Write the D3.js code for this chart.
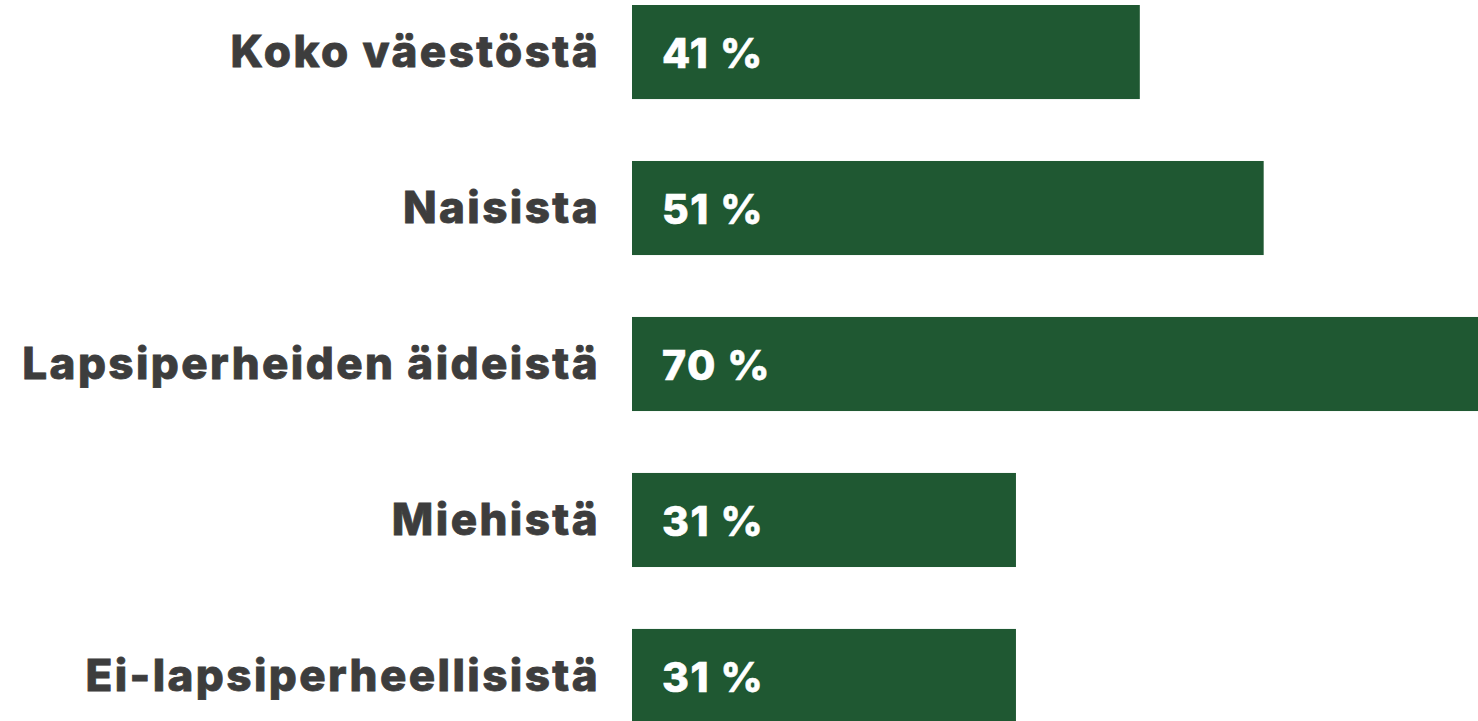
<!DOCTYPE html>
<html>
<head>
<meta charset="utf-8">
<script src="https://cdn.jsdelivr.net/npm/d3@7"></script>
<style>
  html, body { margin: 0; padding: 0; background: #ffffff; overflow: hidden; }
  svg { display: block; }
</style>
</head>
<body>
<svg id="chart" width="1478" height="721"></svg>
<script>
const categories = ["Koko väestöstä", "Naisista", "Lapsiperheiden äideistä", "Miehistä", "Ei-lapsiperheellisistä"];
const values = [41, 51, 70, 31, 31];
const valueLabels = ["41 %", "51 %", "70 %", "31 %", "31 %"];

const W = 1478, H = 721;
const svg = d3.select("#chart");

const x = d3.scaleLinear().domain([0, 70]).range([632, 1499]);
const y = d3.scaleBand().domain(categories).range([5, 723]).paddingInner(0.397).paddingOuter(0);

const font = "Inter, 'Open Sans', 'DejaVu Sans', sans-serif";

const g = svg.append("g");

g.selectAll("rect.bar")
  .data(categories)
  .join("rect")
  .attr("class", "bar")
  .attr("x", x(0))
  .attr("y", d => y(d))
  .attr("width", (d, i) => x(values[i]) - x(0))
  .attr("height", y.bandwidth())
  .attr("fill", "#1f5832");

g.selectAll("text.cat")
  .data(categories)
  .join("text")
  .attr("class", "cat")
  .attr("x", x(0) - 32)
  .attr("y", d => y(d) + y.bandwidth() / 2)
  .attr("dy", "0.34em")
  .attr("text-anchor", "end")
  .attr("font-family", font)
  .attr("font-weight", 800)
  .attr("font-size", 44)
  .attr("letter-spacing", "2.4px")
  .attr("fill", "#3d3d3d")
  .attr("stroke", "#3d3d3d")
  .attr("stroke-width", 0.8)
  .text(d => d);

g.selectAll("text.val")
  .data(categories)
  .join("text")
  .attr("class", "val")
  .attr("x", x(0) + 30)
  .attr("y", d => y(d) + y.bandwidth() / 2)
  .attr("dy", "0.38em")
  .attr("font-family", font)
  .attr("font-weight", 800)
  .attr("font-size", 41)
  .attr("letter-spacing", "1.5px")
  .attr("fill", "#ffffff")
  .attr("stroke", "#ffffff")
  .attr("stroke-width", 0.6)
  .text((d, i) => valueLabels[i]);
</script>
</body>
</html>
